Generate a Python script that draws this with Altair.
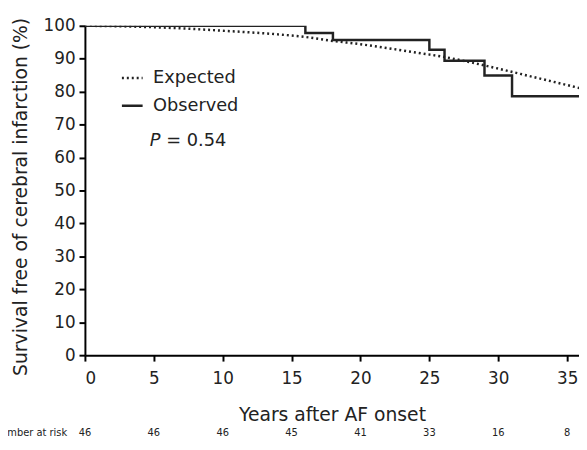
import altair as alt
import pandas as pd

# Observed Kaplan-Meier steps (years, % free of cerebral infarction)
obs_years = [0, 16, 18, 25, 26.1, 29, 31, 36]
obs_values = [100, 97.8, 95.7, 92.7, 89.4, 84.9, 78.6, 78.6]

# Expected survival curve
exp_years = [0, 2, 4, 6, 8, 10, 12, 14, 16, 18, 20, 22, 24, 26, 28, 30, 32, 34, 36]
exp_values = [100, 99.9, 99.7, 99.4, 99.0, 98.5, 98.0, 97.4, 96.6, 95.4, 94.4,
              93.2, 91.9, 90.6, 88.9, 87.0, 85.0, 83.0, 81.0]

# Number at risk
risk_years = [0, 5, 10, 15, 20, 25, 30, 35]
risk_counts = ["46", "46", "46", "45", "41", "33", "16", "8"]

x_ticks = [0, 5, 10, 15, 20, 25, 30, 35]
y_ticks = [0, 10, 20, 30, 40, 50, 60, 70, 80, 90, 100]

FONT = "DejaVu Sans"
INK = "#222222"

curves = pd.concat([
    pd.DataFrame({"year": exp_years, "value": exp_values, "series": "Expected"}),
    pd.DataFrame({"year": obs_years, "value": obs_values, "series": "Observed"}),
])

xscale = alt.Scale(domain=[0, 35.86], nice=False, zero=False)
yscale = alt.Scale(domain=[0, 100], nice=False)

xenc = alt.X("year:Q", scale=xscale,
             axis=alt.Axis(values=x_ticks, tickCount=len(x_ticks), title="Years after AF onset",
                           titleY=66, titleBaseline="alphabetic",
                           labelPadding=10, format="d", labelOverlap=False))
yenc = alt.Y("value:Q", scale=yscale,
             axis=alt.Axis(values=y_ticks, tickCount=len(y_ticks),
                           title="Survival free of cerebral infarction (%)",
                           titleX=-59, titleY=173, titleBaseline="alphabetic",
                           labelPadding=4, format="d", labelOverlap=False))

dash = alt.StrokeDash(
    "series:N",
    scale=alt.Scale(domain=["Expected", "Observed"], range=[[2, 3], [1, 0]]),
    legend=alt.Legend(title=None, orient="none", legendX=36, legendY=41,
                      symbolType="stroke", symbolSize=441, symbolStrokeWidth=2.5,
                      symbolStrokeColor=INK, labelFont=FONT, labelFontSize=18,
                      labelColor=INK, labelOffset=9, rowPadding=7, padding=0),
)

expected = alt.Chart(curves).transform_filter(alt.datum.series == "Expected").mark_line(
    interpolate="monotone", color=INK, strokeWidth=2.5, clip=True
).encode(x=xenc, y=yenc, strokeDash=dash)

observed = alt.Chart(curves).transform_filter(alt.datum.series == "Observed").mark_line(
    interpolate="step-after", color=INK, strokeWidth=2.5, clip=True
).encode(x=xenc, y=yenc, strokeDash=dash)

# P value annotation
p_df = pd.DataFrame({"year": [4.7], "value": [64.9], "t": ["P"]})
eq_df = pd.DataFrame({"year": [5.9], "value": [64.9], "t": ["= 0.54"]})
p_text = alt.Chart(p_df).mark_text(
    font=FONT, fontSize=18, fontStyle="italic", align="left", baseline="middle", color=INK
).encode(x="year:Q", y="value:Q", text="t:N")
eq_text = alt.Chart(eq_df).mark_text(
    font=FONT, fontSize=18, align="left", baseline="middle", color=INK
).encode(x="year:Q", y="value:Q", text="t:N")

# Number at risk row
risk_df = pd.DataFrame({"year": risk_years, "n": risk_counts})
risk_text = alt.Chart(risk_df).mark_text(
    font=FONT, fontSize=10, align="center", baseline="middle", color=INK
).encode(x="year:Q", y=alt.value(413), text="n:N")
risk_label = alt.Chart(pd.DataFrame({"t": ["Number at risk"]})).mark_text(
    font=FONT, fontSize=10, align="right", baseline="middle", color=INK
).encode(x=alt.value(-18), y=alt.value(413), text="t:N")

chart = alt.layer(expected, observed, p_text, eq_text, risk_text, risk_label).properties(
    width=501, height=334,
    padding={"left": 78, "top": 15, "right": 0, "bottom": 85},
    autosize=alt.AutoSizeParams(type="none"),
).configure_view(stroke=None).configure_axis(
    grid=False, domainColor="black", domainWidth=2, tickColor="black", tickWidth=2,
    tickSize=6, labelFont=FONT, labelFontSize=17, labelColor=INK,
    titleFont=FONT, titleFontSize=19, titleFontWeight="normal", titleColor=INK,
)

chart.save("out.html", embed_options={"renderer": "svg", "actions": False})
